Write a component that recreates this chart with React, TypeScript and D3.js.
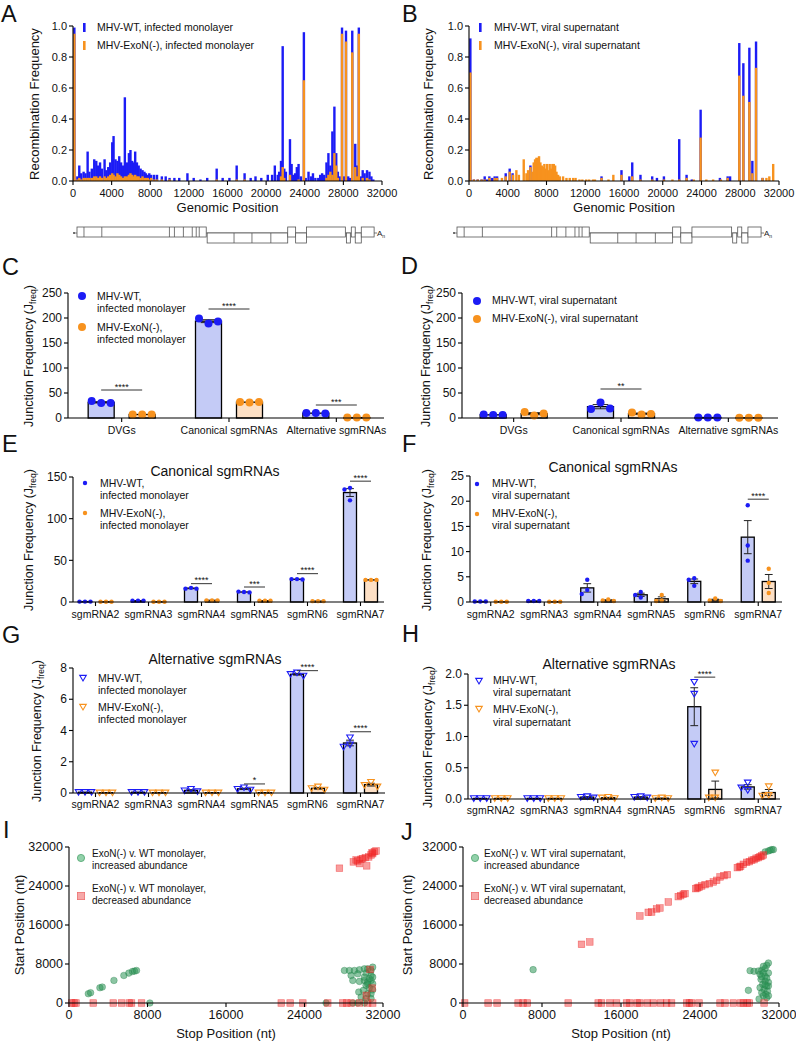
import React from 'react';
import * as d3 from 'd3';

const FONT = '"Liberation Sans", Arial, Helvetica, sans-serif';
const TXT = '#111';
const BLUE = '#1c1cf5';
const ORANGE = '#f7921e';
const BLUE_FILL = '#c4cbf6';
const ORANGE_FILL = '#fde0c5';

type Pair = [number, number];

// ---------------- Panels A / B : recombination frequency ----------------
const GENOME_TICKS = [0, 4000, 8000, 12000, 16000, 20000, 24000, 28000, 32000];
const RECOMB_TICKS = [0, 0.2, 0.4, 0.6, 0.8, 1.0];

const A_WT: Pair[] = [[140,0.99],[450,0.03],[650,0.10],[850,0.05],[1100,0.06],[1300,0.05],[1515,0.19],[1700,0.06],[1950,0.08],[2200,0.14],[2410,0.13],[2600,0.10],[2800,0.12],[3000,0.08],[3270,0.14],[3450,0.07],[3650,0.09],[3850,0.12],[4065,0.25],[4200,0.29],[4400,0.14],[4600,0.13],[4790,0.16],[4980,0.12],[5180,0.10],[5370,0.54],[5580,0.12],[5790,0.18],[5950,0.20],[6130,0.13],[6300,0.12],[6440,0.19],[6620,0.12],[6800,0.10],[7000,0.08],[7200,0.07],[7400,0.06],[7550,0.05],[7750,0.04],[7900,0.05],[8100,0.04],[8400,0.04],[8700,0.04],[9200,0.03],[9600,0.03],[10000,0.02],[10500,0.02],[11000,0.02],[11850,0.05],[12500,0.02],[13200,0.01],[13900,0.02],[14880,0.08],[15500,0.02],[16200,0.02],[16950,0.10],[17770,0.05],[18400,0.02],[18900,0.03],[19500,0.02],[20170,0.04],[20620,0.04],[20900,0.10],[21200,0.04],[21350,0.06],[21540,0.13],[21715,0.87],[21880,0.08],[22050,0.06],[22470,0.27],[22640,0.11],[22810,0.04],[23000,0.05],[23180,0.09],[23360,0.11],[23600,0.03],[23910,0.96],[24100,0.02],[24390,0.06],[24650,0.03],[24850,0.05],[25100,0.02],[25400,0.02],[25600,0.04],[25800,0.05],[26000,0.04],[26250,0.12],[26450,0.18],[26650,0.10],[26860,0.32],[27070,0.48],[27260,0.18],[27430,0.06],[27600,0.03],[27860,0.99],[28050,0.03],[28270,0.97],[28500,0.03],[28700,0.02],[28920,0.97],[29230,0.24],[29420,0.10],[29600,0.99],[29800,0.03],[30000,0.07],[30200,0.05],[30450,0.07],[30700,0.06],[30900,0.03],[31100,0.01]];

const A_EX: Pair[] = [[140,0.95],[450,0.01],[650,0.02],[850,0.01],[1100,0.02],[1300,0.02],[1515,0.02],[1700,0.02],[1950,0.02],[2200,0.03],[2410,0.03],[2600,0.02],[2800,0.03],[3000,0.02],[3270,0.03],[3450,0.02],[3650,0.03],[3850,0.04],[4065,0.05],[4200,0.04],[4400,0.03],[4600,0.05],[4790,0.04],[4980,0.03],[5180,0.02],[5370,0.03],[5580,0.03],[5790,0.04],[5950,0.05],[6130,0.04],[6300,0.03],[6440,0.04],[6620,0.03],[6800,0.03],[7000,0.02],[7200,0.03],[7400,0.02],[7550,0.02],[7750,0.02],[7900,0.01],[8100,0.02],[8400,0.01],[8700,0.01],[9200,0.01],[10000,0.01],[14880,0.01],[16950,0.01],[17770,0.01],[21540,0.03],[21715,0.09],[21880,0.02],[22470,0.04],[23360,0.01],[23910,0.65],[26250,0.02],[26450,0.04],[26650,0.06],[26860,0.04],[27070,0.18],[27260,0.10],[27430,0.02],[27860,0.95],[28270,0.90],[28920,0.83],[29230,0.09],[29420,0.03],[29600,0.95],[30000,0.02],[30450,0.02],[30700,0.01]];

const B_WT: Pair[] = [[140,0.92],[500,0.01],[900,0.01],[1300,0.01],[1620,0.03],[1850,0.01],[2100,0.03],[2400,0.02],[2650,0.03],[2900,0.03],[3790,0.05],[4200,0.08],[4500,0.05],[6340,0.10],[13680,0.03],[15740,0.07],[16550,0.03],[16850,0.12],[17700,0.04],[18910,0.03],[19400,0.02],[20120,0.03],[21700,0.27],[22460,0.04],[23000,0.01],[23910,0.46],[25900,0.02],[26700,0.03],[26950,0.03],[27900,0.89],[28320,0.76],[28940,0.86],[29250,0.13],[29630,0.90],[30300,0.02]];

const B_EX: Pair[] = [[140,0.70],[500,0.01],[900,0.01],[1300,0.01],[1620,0.01],[2100,0.02],[2650,0.02],[2900,0.02],[3400,0.02],[3790,0.03],[4200,0.06],[4550,0.04],[4890,0.07],[5150,0.04],[5650,0.14],[5930,0.05],[6100,0.07],[6340,0.09],[6550,0.06],[6680,0.12],[6820,0.14],[6960,0.15],[7100,0.15],[7230,0.16],[7370,0.12],[7510,0.10],[7650,0.09],[7780,0.11],[7920,0.08],[8060,0.11],[8200,0.07],[8330,0.11],[8470,0.08],[8610,0.11],[8750,0.11],[8890,0.10],[9030,0.06],[9200,0.04],[9370,0.03],[9710,0.03],[10060,0.02],[10400,0.02],[10750,0.02],[11000,0.02],[11400,0.01],[11700,0.01],[12100,0.01],[12400,0.01],[12800,0.01],[13000,0.01],[13680,0.02],[14400,0.01],[14900,0.04],[15740,0.04],[16850,0.03],[17700,0.01],[18910,0.01],[20120,0.01],[21000,0.01],[21700,0.01],[22460,0.02],[23200,0.01],[23910,0.28],[24500,0.01],[25200,0.01],[26000,0.01],[26700,0.02],[27900,0.68],[28320,0.55],[28940,0.51],[29250,0.05],[29630,0.73],[30300,0.02],[30700,0.02],[31000,0.03],[31400,0.11]];

// genome organisation (nt): [start, end, row]
const GENOME_BOXES: [number, number, number][] = [[0,13700,0],[13800,22340,1],[22340,23180,0],[23180,24340,1],[24340,28450,0],[28560,28980,1],[29080,29500,0],[29500,30140,1],[30140,31500,0]];
const GENOME_DIVS: Pair[] = [[740,0],[2630,0],[9800,0],[10330,0],[11280,0],[12220,0],[12640,0],[12960,0],[16650,1],[18550,1],[20550,1]];
const GENOME_END = 31700;

// ---------------- Panels C / D ----------------
const JCAT = ['DVGs', 'Canonical sgmRNAs', 'Alternative sgmRNAs'];
const J_TICKS = [0, 50, 100, 150, 200, 250];
const C_WT = [[30, 34, 30], [189, 199, 193], [10, 10, 9]];
const C_EX = [[7, 7, 7], [31, 32, 32], [0.8, 0.8, 0.8]];
const C_SIG: [number, number, string][] = [[0, 56, '****'], [1, 218, '****'], [2, 26, '***']];
const D_WT = [[6, 7, 6], [31, 18, 19], [1, 1, 1]];
const D_EX = [[5, 12, 9], [7, 11, 8], [0.5, 0.5, 0.5]];
const D_SIG: [number, number, string][] = [[1, 58, '**']];

// ---------------- Panels E-H ----------------
const SGCAT = ['sgmRNA2', 'sgmRNA3', 'sgmRNA4', 'sgmRNA5', 'sgmRN6', 'sgmRNA7'];
const E_TICKS = [0, 50, 100, 150];
const E_WT = [[0.5, 0.5, 0.5], [1.5, 1.5, 1.5], [17, 16, 16], [12, 12.5, 11.5], [27.5, 27.5, 27], [137, 135, 122]];
const E_EX = [[0.3, 0.3, 0.3], [0.3, 0.3, 0.3], [2, 2, 2], [1.5, 1.5, 1.5], [1, 1, 1], [26.5, 26.5, 26.5]];
const E_SIG: [number, number, string][] = [[2, 22, '****'], [3, 18, '***'], [4, 34, '****'], [5, 145, '****']];
const F_TICKS = [0, 5, 10, 15, 20, 25];
const F_WT = [[0.1, 0.1, 0.1], [0.2, 0.2, 0.2], [4.4, 2.4, 1.6], [2.0, 1.4, 0.9], [4.7, 4.4, 3.2], [19.2, 11.2, 8.2]];
const F_EX = [[0.05, 0.05, 0.05], [0.05, 0.05, 0.05], [0.5, 0.3, 0.2], [1.4, 0.3, 0.2], [0.7, 0.3, 0.2], [6.6, 3.8, 1.8]];
const F_SIG: [number, number, string][] = [[5, 20.4, '****']];
const G_TICKS = [0, 2, 4, 6, 8];
const G_WT = [[0.05, 0.05, 0.05], [0.05, 0.05, 0.05], [0.25, 0.15, 0.1], [0.35, 0.25, 0.2], [7.7, 7.6, 7.5], [3.55, 3.1, 2.95]];
const G_EX = [[0.02, 0.02, 0.02], [0.02, 0.02, 0.02], [0.02, 0.02, 0.02], [0.02, 0.02, 0.02], [0.4, 0.3, 0.2], [0.7, 0.5, 0.4]];
const G_SIG: [number, number, string][] = [[3, 0.58, '*'], [4, 7.83, '****'], [5, 3.92, '****']];
const H_TICKS = [0, 0.5, 1.0, 1.5, 2.0];
const H_WT = [[0.01, 0.01, 0.01], [0.01, 0.01, 0.01], [0.04, 0.03, 0.02], [0.04, 0.03, 0.02], [1.87, 1.68, 0.88], [0.26, 0.18, 0.14]];
const H_EX = [[0.01, 0.01, 0.01], [0.01, 0.01, 0.01], [0.03, 0.02, 0.01], [0.02, 0.01, 0.01], [0.42, 0.02, 0.02], [0.2, 0.06, 0.05]];
const H_SIG: [number, number, string][] = [[4, 1.95, '****']];

// ---------------- Panels I / J : [stop, start] ----------------
const POS_TICKS = [0, 8000, 16000, 24000, 32000];
const I_INC: Pair[] = [[1970,1910],[2200,2110],[3150,3130],[3390,3270],[4580,4630],[5590,5650],[6100,6130],[6470,6470],[6680,6540],[6880,6670],[8240,0],[26200,0],[28920,0],[29430,0],[30100,0],[28070,6670],[28580,6670],[29090,6670],[29600,6810],[30100,7010],[30440,7010],[30780,6670],[30950,7350],[28750,5650],[29430,5990],[30270,6130],[30780,5650],[28920,4630],[29600,4430],[30100,4630],[30440,4290],[30780,4630],[30950,3950],[30270,3610],[30610,3130],[29530,2250],[30000,2590],[30440,1910],[30780,1910],[29770,1230],[30270,890],[30780,890],[30610,5000],[30950,5300],[30100,5300],[30440,3900],[30950,2700]];
const I_DEC: Pair[] = [[27560,27650],[28980,28940],[29260,29350],[29600,28600],[29760,29490],[30200,29830],[30340,28130],[30540,29960],[30780,30370],[30950,30640],[31120,31050],[31290,31190],[29930,29620],[29430,29150],[30880,30850],[270,0],[510,0],[710,0],[2470,0],[4510,0],[5360,0],[6140,0],[6370,0],[7390,0],[21630,0],[22540,0],[23830,0],[26370,0],[27900,0],[28310,0],[28750,0],[29600,0],[30440,0],[30950,0],[30680,6880],[30900,3060],[30300,1570]];
const J_INC: Pair[] = [[7100,6840],[30590,30990],[30930,31190],[31270,31460],[31430,31460],[31100,31330],[29070,6630],[29470,6500],[29910,6570],[30250,6700],[30590,7050],[30760,7730],[30930,8210],[30420,7520],[30080,5880],[30590,5470],[30930,6160],[30180,4860],[30590,4450],[30930,4240],[30350,3830],[30760,3490],[30080,3150],[30490,2800],[30830,2390],[30250,2120],[30660,1780],[28900,2600],[30420,1500],[30760,1090],[29980,820],[30420,6200],[30760,5100],[30250,5400],[30930,3500],[30590,3700],[30930,1500]];
const J_DEC: Pair[] = [[12000,12040],[12840,12520],[17910,17850],[18760,18600],[19100,18670],[19600,19290],[19940,19490],[20790,20720],[21800,21820],[22040,22020],[22310,22300],[22480,22440],[23560,23460],[23730,23600],[23900,23730],[24170,24010],[24510,24280],[24940,24490],[25350,24830],[25690,25170],[26030,25860],[26430,26130],[26770,26330],[27780,27770],[27990,27910],[28120,28040],[28390,28450],[28730,28860],[29000,29000],[29240,29280],[29470,29410],[29680,29690],[29910,29820],[30080,30030],[30250,30160],[30420,30370],[170,0],[2540,0],[3450,0],[5580,0],[6080,0],[6520,0],[10650,0],[13690,0],[14030,0],[14870,0],[15550,0],[16560,0],[16900,0],[17640,0],[17910,0],[18660,0],[19270,0],[20010,0],[20620,0],[21120,0],[22650,0],[22920,0],[23150,0],[23900,0],[26030,0],[26530,0],[27380,0],[28120,0],[28390,0],[28800,0],[29000,0],[30490,0]];

// ======================================================================

function Letter({ x, y, t }: { x: number; y: number; t: string }) {
  return <text x={x} y={y} fontSize={23.5} fill={TXT}>{t}</text>;
}

function RotTitle({ x, y, size, children }: any) {
  return (
    <text transform={`translate(${x},${y}) rotate(-90)`} textAnchor="middle" fontSize={size} fill={TXT}>
      {children}
    </text>
  );
}

function JTitle({ x, y }: { x: number; y: number }) {
  return (
    <RotTitle x={x} y={y} size={12.5}>
      <tspan>Junction Frequency (J</tspan>
      <tspan fontSize={8.5} dy={3}>freq</tspan>
      <tspan dy={-3}>)</tspan>
    </RotTitle>
  );
}

function Genome({ g0, g1 }: { g0: number; g1: number }) {
  const gx = d3.scaleLinear().domain([0, GENOME_END]).range([g0, g1]);
  const rows = [[227, 237], [233, 243]];
  const mid = 233;
  return (
    <g stroke="#555" strokeWidth={0.8} fill="none">
      <circle cx={gx(0) - 3} cy={mid} r={0.9} fill="#333" stroke="none" />
      <line x1={gx(0) - 3} x2={gx(GENOME_BOXES[GENOME_BOXES.length - 1][1]) + 3} y1={mid} y2={mid} />
      {GENOME_BOXES.map(([s, e, r], i) => (
        <rect key={i} x={gx(s)} y={rows[r][0]} width={gx(e) - gx(s)} height={rows[r][1] - rows[r][0]} fill="#fff" />
      ))}
      {GENOME_DIVS.map(([p, r], i) => (
        <line key={i} x1={gx(p)} x2={gx(p)} y1={rows[r][0]} y2={rows[r][1]} />
      ))}
      <text x={gx(GENOME_END) + 1} y={mid + 3} fontSize={8} fill="#222" stroke="none">
        A<tspan fontSize={5} dy={1.5}>n</tspan>
      </text>
    </g>
  );
}

function RecombPanel(p: {
  x0: number; x1: number; wt: Pair[]; ex: Pair[]; wtLabel: string; exLabel: string;
  mx: number; tx: number; titleX: number; g0: number; g1: number;
}) {
  const x = d3.scaleLinear().domain([0, 32000]).range([p.x0, p.x1]);
  const y = d3.scaleLinear().domain([0, 1]).range([181, 26]);
  const bw = 2.4;
  const fmt = d3.format('.1f');
  return (
    <g>
      {p.wt.map(([pos, v], i) => (
        <rect key={'w' + i} x={x(pos) - bw / 2} y={y(v)} width={bw} height={y(0) - y(v)} fill={BLUE} />
      ))}
      {p.ex.map(([pos, v], i) => (
        <rect key={'e' + i} x={x(pos) - bw / 2} y={y(v)} width={bw} height={y(0) - y(v)} fill={ORANGE} />
      ))}
      <g stroke="#000" strokeWidth={1.1}>
        <line x1={p.x0} x2={p.x0} y1={y(0)} y2={y(1)} />
        <line x1={p.x0} x2={p.x1} y1={y(0)} y2={y(0)} />
        {RECOMB_TICKS.map((t) => <line key={t} x1={p.x0 - 4} x2={p.x0} y1={y(t)} y2={y(t)} />)}
        {GENOME_TICKS.map((t) => <line key={t} x1={x(t)} x2={x(t)} y1={y(0)} y2={y(0) + 4} />)}
      </g>
      {RECOMB_TICKS.map((t) => (
        <text key={t} x={p.x0 - 6} y={y(t)} dy="0.35em" textAnchor="end" fontSize={11} fill={TXT}>{fmt(t)}</text>
      ))}
      {GENOME_TICKS.map((t) => (
        <text key={t} x={x(t)} y={y(0) + 16} textAnchor="middle" fontSize={11} fill={TXT}>{t}</text>
      ))}
      <text x={(p.x0 + p.x1) / 2} y={212} textAnchor="middle" fontSize={13} fill={TXT}>Genomic Position</text>
      <RotTitle x={p.titleX} y={104} size={13}>Recombination Frequency</RotTitle>
      <rect x={p.mx} y={23} width={2.6} height={9} fill={BLUE} />
      <rect x={p.mx} y={41} width={2.6} height={9} fill={ORANGE} />
      <text x={p.tx} y={31} fontSize={10.5} fill={TXT}>{p.wtLabel}</text>
      <text x={p.tx} y={49} fontSize={10.5} fill={TXT}>{p.exLabel}</text>
      <Genome g0={p.g0} g1={p.g1} />
    </g>
  );
}

function swarm(vals: number[], y: (v: number) => number, d: number) {
  const placed: { x: number; y: number }[] = [];
  return vals.map((v) => {
    const py = y(v);
    const cands = [0, -d, d, -2 * d, 2 * d];
    for (const c of cands) {
      if (placed.every((q) => Math.hypot(q.x - c, q.y - py) >= d * 0.9)) {
        placed.push({ x: c, y: py });
        return c;
      }
    }
    placed.push({ x: 0, y: py });
    return 0;
  });
}

function Marker({ kind, x, y, color }: { kind: string; x: number; y: number; color: string }) {
  if (kind === 'circle') return <circle cx={x} cy={y} r={4} fill={color} />;
  if (kind === 'dot') return <circle cx={x} cy={y} r={2.2} fill={color} />;
  return <path d={`M${x - 3.3},${y - 2.6}L${x + 3.3},${y - 2.6}L${x},${y + 3}Z`} fill="none" stroke={color} strokeWidth={1.1} />;
}

function JunctionPanel(p: any) {
  const xb = d3.scaleBand<string>().domain(p.cats).range([p.b0, p.b1]);
  const y = d3.scaleLinear().domain([0, p.yMax]).range([p.yBase, p.yTop]);
  const d = p.marker === 'circle' ? 9.5 : p.marker === 'dot' ? 5.5 : 6.5;
  const cen = (c: string) => (xb(c) as number) + xb.bandwidth() / 2;
  const series = [
    { pts: p.wt, sign: -1, fill: BLUE_FILL, color: BLUE },
    { pts: p.ex, sign: 1, fill: ORANGE_FILL, color: ORANGE },
  ];
  const cap = p.barW * 0.3;
  return (
    <g>
      {series.map((s, si) =>
        p.cats.map((c: string, ci: number) => {
          const vals: number[] = s.pts[ci];
          const m = d3.mean(vals) as number;
          const se = (d3.deviation(vals) || 0) / Math.sqrt(vals.length);
          const cx = cen(c) + s.sign * p.off;
          const offs = swarm(vals, y, d);
          return (
            <g key={si + '-' + ci}>
              <rect x={cx - p.barW / 2} y={y(m)} width={p.barW} height={y(0) - y(m)} fill={s.fill} stroke="#000" strokeWidth={1.3} />
              {se > 0.02 * p.yMax / 10 && (
                <g stroke="#222" strokeWidth={1}>
                  <line x1={cx} x2={cx} y1={y(m + se)} y2={y(Math.max(0, m - se))} />
                  <line x1={cx - cap} x2={cx + cap} y1={y(m + se)} y2={y(m + se)} />
                  <line x1={cx - cap} x2={cx + cap} y1={y(Math.max(0, m - se))} y2={y(Math.max(0, m - se))} />
                </g>
              )}
              {vals.map((v, k) => <Marker key={k} kind={p.marker} x={cx + offs[k]} y={y(v)} color={s.color} />)}
            </g>
          );
        })
      )}
      <g stroke="#000" strokeWidth={1.1}>
        <line x1={p.axisX} x2={p.axisX} y1={y(0)} y2={y(p.yMax)} />
        <line x1={p.axisX} x2={p.axisEnd} y1={y(0)} y2={y(0)} />
        {p.ticks.map((t: number) => <line key={t} x1={p.axisX - 4} x2={p.axisX} y1={y(t)} y2={y(t)} />)}
        {p.cats.map((c: string) => <line key={c} x1={cen(c)} x2={cen(c)} y1={y(0)} y2={y(0) + 4} />)}
      </g>
      {p.ticks.map((t: number) => (
        <text key={t} x={p.axisX - 6} y={y(t)} dy="0.35em" textAnchor="end" fontSize={12} fill={TXT}>{p.fmt(t)}</text>
      ))}
      {p.cats.map((c: string) => (
        <text key={c} x={cen(c)} y={y(0) + p.catDy} textAnchor="middle" fontSize={10.5} fill={TXT}>{c}</text>
      ))}
      {p.sig.map(([ci, v, t]: [number, number, string], i: number) => {
        const c = cen(p.cats[ci]);
        return (
          <g key={i}>
            <line x1={c - p.off} x2={c + p.off} y1={y(v)} y2={y(v)} stroke="#333" strokeWidth={1} />
            <text x={c} y={y(v) - 0.5} textAnchor="middle" fontSize={9} fill={TXT}>{t}</text>
          </g>
        );
      })}
      {p.title && (
        <text x={p.titleX} y={p.titleY} textAnchor="middle" fontSize={14} fill={TXT}>{p.title}</text>
      )}
      {p.legend.map((L: any, i: number) => (
        <g key={i}>
          <Marker kind={p.marker} x={L.mx} y={L.my} color={i === 0 ? BLUE : ORANGE} />
          {L.lines.map((ln: [number, string], k: number) => (
            <text key={k} x={L.tx} y={ln[0]} fontSize={10.5} fill={TXT}>{ln[1]}</text>
          ))}
        </g>
      ))}
      <JTitle x={p.ytX} y={p.ytY} />
    </g>
  );
}

function ScatterPanel(p: any) {
  const x = d3.scaleLinear().domain([0, 32000]).range([p.x0, p.x1]);
  const y = d3.scaleLinear().domain([0, 32000]).range([1003, 847]);
  const sq = 6.6;
  return (
    <g>
      {p.inc.map(([s, st]: Pair, i: number) => (
        <circle key={'g' + i} cx={x(s)} cy={y(st)} r={3.3} fill="rgba(46,150,88,0.55)" stroke="rgba(40,130,75,0.6)" strokeWidth={0.6} />
      ))}
      {p.dec.map(([s, st]: Pair, i: number) => (
        <rect key={'r' + i} x={x(s) - sq / 2} y={y(st) - sq / 2} width={sq} height={sq} fill="rgba(242,40,40,0.45)" stroke="rgba(235,30,30,0.55)" strokeWidth={0.6} />
      ))}
      <g stroke="#000" strokeWidth={1.1}>
        <line x1={p.x0} x2={p.x0} y1={y(0)} y2={y(32000)} />
        <line x1={p.x0} x2={p.x1} y1={y(0)} y2={y(0)} />
        {POS_TICKS.map((t) => <line key={'y' + t} x1={p.x0 - 4} x2={p.x0} y1={y(t)} y2={y(t)} />)}
        {POS_TICKS.map((t) => <line key={'x' + t} x1={x(t)} x2={x(t)} y1={y(0)} y2={y(0) + 4} />)}
      </g>
      {POS_TICKS.map((t) => (
        <text key={'yl' + t} x={p.x0 - 6} y={y(t)} dy="0.35em" textAnchor="end" fontSize={12.5} fill={TXT}>{t}</text>
      ))}
      {POS_TICKS.map((t) => (
        <text key={'xl' + t} x={x(t)} y={1019} textAnchor="middle" fontSize={12.5} fill={TXT}>{t}</text>
      ))}
      <text x={(p.x0 + p.x1) / 2} y={1038} textAnchor="middle" fontSize={13} fill={TXT}>Stop Position (nt)</text>
      <RotTitle x={p.ytX} y={925} size={13}>Start Position (nt)</RotTitle>
      <circle cx={p.mx} cy={858} r={3.6} fill="#92d1aa" stroke="#4ea56f" strokeWidth={0.8} />
      <rect x={p.mx - 3.6} y={896 - 3.6} width={7.2} height={7.2} fill="#f6a8a8" stroke="#ee7070" strokeWidth={0.8} />
      <text x={p.tx} y={857} fontSize={10} fill={TXT}>{p.l1}</text>
      <text x={p.tx} y={869} fontSize={10} fill={TXT}>increased abundance</text>
      <text x={p.tx} y={892} fontSize={10} fill={TXT}>{p.l1}</text>
      <text x={p.tx} y={904} fontSize={10} fill={TXT}>decreased abundance</text>
    </g>
  );
}

export default function App() {
  const intFmt = (v: number) => String(v);
  const f1 = d3.format('.1f');
  return (
    <svg width={796} height={1043} style={{ position: 'absolute', left: 0, top: 0, background: '#fff' }} fontFamily={FONT}>
      <rect width={796} height={1043} fill="#fff" />
      <Letter x={1} y={22} t="A" />
      <Letter x={402} y={22} t="B" />
      <RecombPanel x0={73} x1={382} wt={A_WT} ex={A_EX} wtLabel="MHV-WT, infected monolayer" exLabel="MHV-ExoN(-), infected monolayer" mx={83} tx={97} titleX={39} g0={77} g1={376} />
      <RecombPanel x0={469} x1={779} wt={B_WT} ex={B_EX} wtLabel="MHV-WT, viral supernatant" exLabel="MHV-ExoN(-), viral supernatant" mx={479} tx={494} titleX={433} g0={457} g1={763} />

      <Letter x={2} y={275} t="C" />
      <Letter x={401} y={274} t="D" />
      <JunctionPanel cats={JCAT} b0={68} b1={390} axisX={68} axisEnd={384} yBase={418} yTop={293} yMax={250} ticks={J_TICKS} fmt={intFmt}
        wt={C_WT} ex={C_EX} marker="circle" barW={26} off={20.5} sig={C_SIG} catDy={16} ytX={33} ytY={356}
        legend={[{ mx: 82, my: 296, tx: 97, lines: [[300, 'MHV-WT,'], [312, 'infected monolayer']] }, { mx: 82, my: 327, tx: 97, lines: [[331, 'MHV-ExoN(-),'], [343, 'infected monolayer']] }]} />
      <JunctionPanel cats={JCAT} b0={460} b1={782} axisX={462} axisEnd={778} yBase={418} yTop={293} yMax={250} ticks={J_TICKS} fmt={intFmt}
        wt={D_WT} ex={D_EX} marker="circle" barW={26} off={20.5} sig={D_SIG} catDy={16} ytX={430} ytY={356}
        legend={[{ mx: 477, my: 301, tx: 492, lines: [[304, 'MHV-WT, viral supernatant']] }, { mx: 477, my: 319, tx: 492, lines: [[322, 'MHV-ExoN(-), viral supernatant']] }]} />

      <Letter x={2} y={452} t="E" />
      <Letter x={402} y={452} t="F" />
      <JunctionPanel cats={SGCAT} b0={69} b1={387} axisX={73} axisEnd={384} yBase={602} yTop={477} yMax={150} ticks={E_TICKS} fmt={intFmt}
        wt={E_WT} ex={E_EX} marker="dot" barW={13} off={10.5} sig={E_SIG} catDy={16} ytX={33} ytY={540}
        title="Canonical sgmRNAs" titleX={215} titleY={476}
        legend={[{ mx: 85, my: 483, tx: 100, lines: [[487, 'MHV-WT,'], [499, 'infected monolayer']] }, { mx: 85, my: 513, tx: 100, lines: [[517, 'MHV-ExoN(-),'], [529, 'infected monolayer']] }]} />
      <JunctionPanel cats={SGCAT} b0={464} b1={785} axisX={470} axisEnd={782} yBase={602} yTop={476} yMax={25} ticks={F_TICKS} fmt={intFmt}
        wt={F_WT} ex={F_EX} marker="dot" barW={13} off={10.5} sig={F_SIG} catDy={16} ytX={431} ytY={540}
        title="Canonical sgmRNAs" titleX={613} titleY={472}
        legend={[{ mx: 477, my: 484, tx: 492, lines: [[487, 'MHV-WT,'], [499, 'viral supernatant']] }, { mx: 477, my: 514, tx: 492, lines: [[517, 'MHV-ExoN(-),'], [529, 'viral supernatant']] }]} />

      <Letter x={2} y={643} t="G" />
      <Letter x={402} y={642} t="H" />
      <JunctionPanel cats={SGCAT} b0={69} b1={387} axisX={73} axisEnd={385} yBase={793} yTop={668} yMax={8} ticks={G_TICKS} fmt={intFmt}
        wt={G_WT} ex={G_EX} marker="tri" barW={13} off={10.5} sig={G_SIG} catDy={15} ytX={41} ytY={731}
        title="Alternative sgmRNAs" titleX={215} titleY={664}
        legend={[{ mx: 83, my: 678, tx: 98, lines: [[682, 'MHV-WT,'], [694, 'infected monolayer']] }, { mx: 83, my: 707, tx: 98, lines: [[711, 'MHV-ExoN(-),'], [723, 'infected monolayer']] }]} />
      <JunctionPanel cats={SGCAT} b0={464} b1={785} axisX={468} axisEnd={780} yBase={799} yTop={674} yMax={2} ticks={H_TICKS} fmt={f1}
        wt={H_WT} ex={H_EX} marker="tri" barW={13} off={10.5} sig={H_SIG} catDy={15} ytX={432} ytY={737}
        title="Alternative sgmRNAs" titleX={609} titleY={669}
        legend={[{ mx: 479, my: 681, tx: 493, lines: [[684, 'MHV-WT,'], [696, 'viral supernatant']] }, { mx: 479, my: 709, tx: 493, lines: [[713, 'MHV-ExoN(-),'], [726, 'viral supernatant']] }]} />

      <Letter x={3} y={838} t="I" />
      <Letter x={401} y={840} t="J" />
      <ScatterPanel x0={69} x1={383} inc={I_INC} dec={I_DEC} ytX={24} mx={81} tx={92} l1="ExoN(-) v. WT monolayer," />
      <ScatterPanel x0={463} x1={779} inc={J_INC} dec={J_DEC} ytX={412} mx={475} tx={484} l1="ExoN(-) v. WT viral supernatant," />
    </svg>
  );
}
